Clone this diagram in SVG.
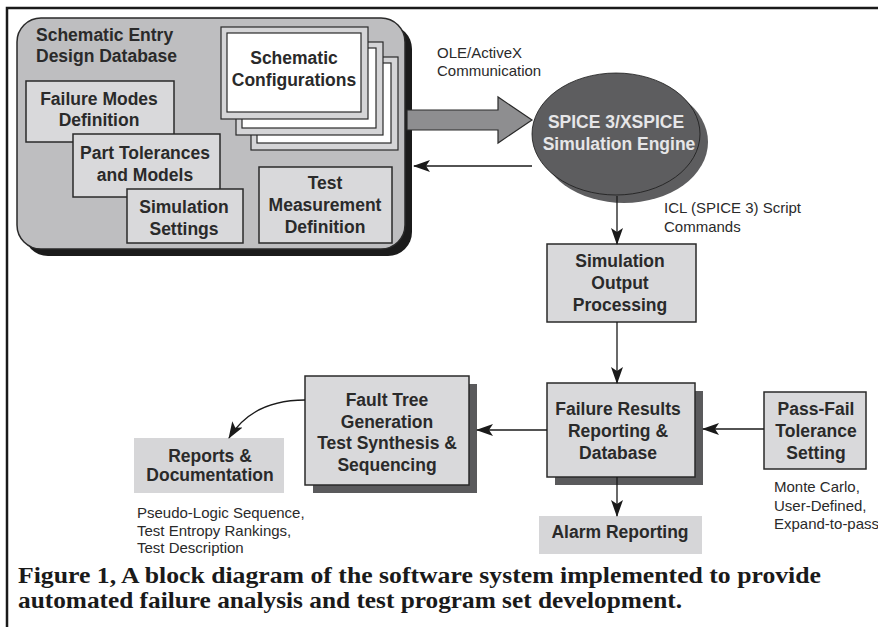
<svg xmlns="http://www.w3.org/2000/svg" width="878" height="627" viewBox="0 0 878 627">
<defs>
<style>
.nt{font-family:"Liberation Sans",Arial,sans-serif;font-weight:bold;font-size:17.5px;fill:#2a2a2a;text-anchor:middle}
.lt{font-family:"Liberation Sans",Arial,sans-serif;font-size:15px;fill:#2a2a2a}
.box{fill:#d9d9db;stroke:#2a2a2a;stroke-width:1.5}
.sh{fill:#5a5a5c}
.plain{fill:#d6d6d8}
.card{fill:#d5d5d7;stroke:#2a2a2a;stroke-width:1.2}
.cardin{fill:#ffffff;stroke:#2a2a2a;stroke-width:1.2}
.con{fill:none;stroke:#1a1a1a;stroke-width:1.3}
.cap{font-family:"Liberation Serif","Times New Roman",serif;font-weight:bold;font-size:22.5px;fill:#1a1a1a}
</style>
<marker id="ah" markerWidth="17" markerHeight="12" refX="16" refY="6" orient="auto" markerUnits="userSpaceOnUse">
<path d="M0,0 L17,6 L0,12 L4,6 z" fill="#1a1a1a"/>
</marker>
</defs>
<rect width="878" height="627" fill="#ffffff"/>
<!-- frame -->
<path d="M7,627 L7,8 L878,8" fill="none" stroke="#1a1a1a" stroke-width="2.5"/>

<g id="schematic-entry">
<rect x="24" y="25" width="388" height="231" rx="24" fill="#1b1b1b"/>
<rect x="17" y="18" width="388" height="231" rx="24" fill="#bebec0" stroke="#2a2a2a" stroke-width="1.5"/>
<text x="36" y="41" class="nt" style="text-anchor:start">Schematic Entry</text>
<text x="36" y="62" class="nt" style="text-anchor:start">Design Database</text>
</g>

<g id="schematic-configurations">
<rect x="251" y="57" width="147" height="93" class="card"/>
<rect x="257" y="63" width="134" height="80" class="cardin"/>
<rect x="236" y="42" width="147" height="93" class="card"/>
<rect x="242" y="48" width="134" height="80" class="cardin"/>
<rect x="221" y="27" width="147" height="92" class="card"/>
<rect x="227" y="33" width="134" height="79" class="cardin"/>
<text x="294" y="64" class="nt">Schematic</text>
<text x="294" y="86" class="nt">Configurations</text>
</g>

<g id="failure-modes">
<rect x="26" y="81" width="148" height="61" class="box"/>
<text x="99" y="105" class="nt">Failure Modes</text>
<text x="99" y="126" class="nt">Definition</text>
</g>

<g id="part-tolerances">
<rect x="73" y="134" width="147" height="63" class="box"/>
<text x="145" y="159" class="nt">Part Tolerances</text>
<text x="145" y="181" class="nt">and Models</text>
</g>

<g id="simulation-settings">
<rect x="127" y="189" width="116" height="54" class="box"/>
<text x="184" y="213" class="nt">Simulation</text>
<text x="184" y="235" class="nt">Settings</text>
</g>

<g id="test-measurement">
<rect x="259" y="167" width="133" height="76" class="box"/>
<text x="325" y="189" class="nt">Test</text>
<text x="325" y="211" class="nt">Measurement</text>
<text x="325" y="233" class="nt">Definition</text>
</g>

<g id="spice-engine">
<ellipse cx="624" cy="142" rx="84" ry="61" fill="#5d5d5f"/>
<ellipse cx="616" cy="134" rx="84" ry="61" fill="#5d5d5f" stroke="#1a1a1a" stroke-width="0.8"/>
<text x="616" y="128" class="nt" style="fill:#e6e6e8">SPICE 3/XSPICE</text>
<text x="619" y="150" class="nt" style="fill:#e6e6e8">Simulation Engine</text>
</g>

<g id="sim-output">
<rect x="547" y="244" width="149" height="78" class="box"/>
<text x="620" y="267" class="nt">Simulation</text>
<text x="620" y="289" class="nt">Output</text>
<text x="620" y="311" class="nt">Processing</text>
</g>

<g id="failure-results">
<rect x="555" y="391" width="148" height="94" class="sh"/>
<rect x="547" y="383" width="148" height="94" class="box"/>
<text x="618" y="415" class="nt">Failure Results</text>
<text x="618" y="437" class="nt">Reporting &amp;</text>
<text x="618" y="459" class="nt">Database</text>
</g>

<g id="fault-tree">
<rect x="313" y="384" width="164" height="109" class="sh"/>
<rect x="305" y="376" width="164" height="109" class="box"/>
<text x="387" y="406" class="nt">Fault Tree</text>
<text x="387" y="428" class="nt">Generation</text>
<text x="387" y="449" class="nt">Test Synthesis &amp;</text>
<text x="387" y="471" class="nt">Sequencing</text>
</g>

<g id="pass-fail">
<rect x="764" y="392" width="102" height="77" class="box"/>
<text x="816" y="415" class="nt">Pass-Fail</text>
<text x="816" y="437" class="nt">Tolerance</text>
<text x="816" y="459" class="nt">Setting</text>
</g>

<g id="reports">
<rect x="134" y="438" width="150" height="55" class="plain"/>
<text x="210" y="462" class="nt">Reports &amp;</text>
<text x="210" y="481" class="nt">Documentation</text>
</g>

<g id="alarm">
<rect x="539" y="516" width="163" height="38" class="plain"/>
<text x="620" y="538" class="nt">Alarm Reporting</text>
</g>

<g id="connectors">
<polygon points="407,110 498,110 498,97 532,120 498,143 498,130 407,130" fill="#8e8e90" stroke="#2a2a2a" stroke-width="1.2"/>
<line x1="532" y1="166" x2="414" y2="166" class="con" marker-end="url(#ah)"/>
<line x1="617" y1="196" x2="617" y2="244" class="con" marker-end="url(#ah)"/>
<line x1="617" y1="322" x2="617" y2="383" class="con" marker-end="url(#ah)"/>
<line x1="547" y1="430" x2="477" y2="430" class="con" marker-end="url(#ah)"/>
<line x1="764" y1="429" x2="703" y2="429" class="con" marker-end="url(#ah)"/>
<line x1="617" y1="477" x2="617" y2="516" class="con" marker-end="url(#ah)"/>
<path d="M305,400 C272,400 245,412 229,438" class="con" marker-end="url(#ah)"/>
</g>

<g id="labels">
<text x="437" y="58" class="lt">OLE/ActiveX</text>
<text x="437" y="76" class="lt">Communication</text>
<text x="664" y="213" class="lt">ICL (SPICE 3) Script</text>
<text x="664" y="232" class="lt">Commands</text>
<text x="137" y="518" class="lt">Pseudo-Logic Sequence,</text>
<text x="137" y="536" class="lt">Test Entropy Rankings,</text>
<text x="137" y="553" class="lt">Test Description</text>
<text x="774" y="492" class="lt">Monte Carlo,</text>
<text x="774" y="511" class="lt">User-Defined,</text>
<text x="774" y="529" class="lt">Expand-to-pass</text>
</g>

<g id="caption">
<text x="18" y="583" class="cap" textLength="803" lengthAdjust="spacingAndGlyphs">Figure 1, A block diagram of the software system implemented to provide</text>
<text x="18" y="608" class="cap" textLength="664" lengthAdjust="spacingAndGlyphs">automated failure analysis and test program set development.</text>
</g>
</svg>
